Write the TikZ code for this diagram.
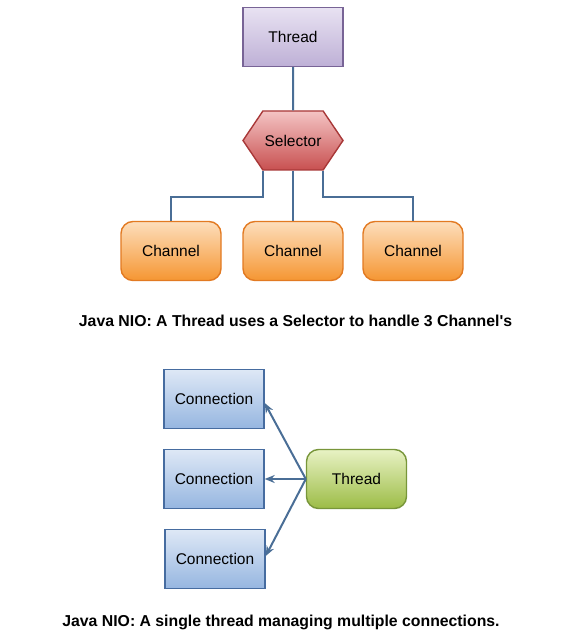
\documentclass[tikz,border=0pt]{standalone}
\usepackage{fontspec}
\setmainfont{Liberation Sans}
\newfontfamily\capfont[Ligatures=ResetAll]{Liberation Sans}
\definecolor{wireblue}{RGB}{74, 110, 150}
\definecolor{threadtop}{RGB}{232, 226, 242}
\definecolor{threadbot}{RGB}{190, 176, 214}
\definecolor{threaddraw}{RGB}{120, 100, 150}
\definecolor{seltop}{RGB}{244, 196, 196}
\definecolor{selbot}{RGB}{200, 80, 80}
\definecolor{seldraw}{RGB}{168, 56, 56}
\definecolor{chantop}{RGB}{253, 222, 188}
\definecolor{chanbot}{RGB}{245, 150, 50}
\definecolor{chandraw}{RGB}{226, 122, 34}
\definecolor{conntop}{RGB}{222, 232, 246}
\definecolor{connbot}{RGB}{150, 182, 224}
\definecolor{conndraw}{RGB}{70, 108, 160}
\definecolor{greentop}{RGB}{232, 242, 196}
\definecolor{greenbot}{RGB}{156, 188, 70}
\definecolor{greendraw}{RGB}{120, 150, 58}
\usetikzlibrary{shapes.symbols, arrows.meta, positioning, calc}

\tikzset{
  box/.style={minimum width=100pt, minimum height=59pt, line width=1.4pt,
    font=\fontsize{15.5}{18}\selectfont, inner sep=0pt},
  threadbox/.style={box, draw=threaddraw, top color=threadtop, bottom color=threadbot},
  selectorbox/.style={box, shape=signal, signal to=east and west, signal pointer angle=112,
    draw=seldraw, top color=seltop, bottom color=selbot},
  channelbox/.style={box, rounded corners=12pt, draw=chandraw, top color=chantop, bottom color=chanbot},
  connbox/.style={box, draw=conndraw, top color=conntop, bottom color=connbot},
  workerbox/.style={box, rounded corners=12pt, draw=greendraw, top color=greentop, bottom color=greenbot},
  wire/.style={draw=wireblue, line width=2pt},
  caption/.style={font=\capfont\bfseries\fontsize{15.8}{18}\selectfont}
}

\begin{document}
\begin{tikzpicture}[x=1pt, y=1pt]
  \useasboundingbox (0,0) rectangle (585,-639);

  % selector diagram
  \node[threadbox] (thread) at (293,-37) {Thread};
  \node[selectorbox] (selector) at (293,-140.5) {Selector};
  \node[channelbox] (chanA) at (171,-251) {Channel};
  \node[channelbox] (chanB) at (293,-251) {Channel};
  \node[channelbox] (chanC) at (413,-251) {Channel};

  \draw[wire] (thread) -- (selector);
  \draw[wire] ([xshift=-30pt]selector.south) -- ++(0,-26) -| (chanA.north);
  \draw[wire] (selector.south) -- (chanB.north);
  \draw[wire] ([xshift=30pt]selector.south) -- ++(0,-26) -| (chanC.north);

  \node[caption] (capA) at (295.5,-321) {Java NIO: A Thread uses a Selector to handle 3 Channel's};

  % thread managing connections
  \node[connbox] (connA) at (214,-399) {Connection};
  \node[connbox] (connB) at (214,-479) {Connection};
  \node[connbox] (connC) at (215,-559) {Connection};
  \node[workerbox] (worker) at (356.5,-479) {Thread};

  \draw[wire, -{Stealth[length=10pt, width=8pt]}] (worker.west) -- ([yshift=-4pt]connA.east);
  \draw[wire, -{Stealth[length=10pt, width=8pt]}] (worker.west) -- (connB.east);
  \draw[wire, -{Stealth[length=10pt, width=8pt]}] (worker.west) -- ([yshift=3pt]connC.east);

  \node[caption] (capB) at (281,-622) {Java NIO: A single thread managing multiple connections.};
\end{tikzpicture}
\end{document}
